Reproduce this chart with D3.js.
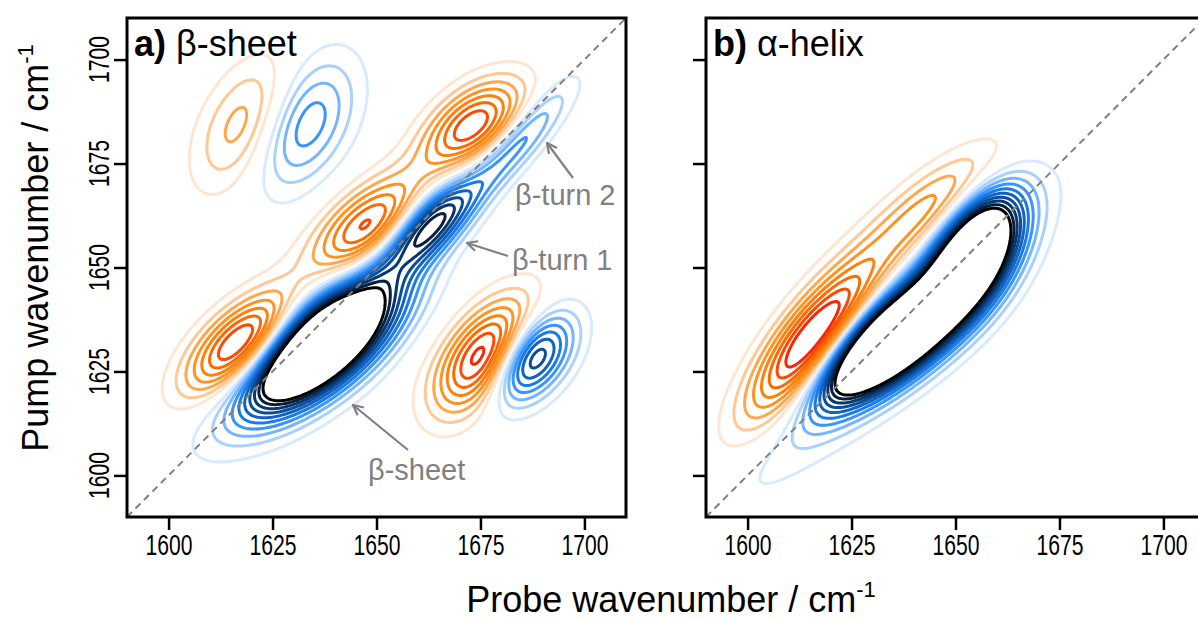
<!DOCTYPE html>
<html>
<head>
<meta charset="utf-8">
<script src="https://cdn.jsdelivr.net/npm/d3@7"></script>
<style>
  body { margin: 0; background: #fff; overflow: hidden; }
  text { font-family: "Liberation Sans", Arial, sans-serif; }
</style>
</head>
<body>
<svg id="chart" width="1198" height="621"></svg>
<script>
// axis range and ticks (cm-1)
const DOMAIN = [1590, 1710];
const TICKS = [1600, 1625, 1650, 1675, 1700];

// contour levels, in units of one contour step
const POS_LEVELS = [1, 2, 3, 4, 5, 6, 7, 8];
const NEG_LEVELS = [1, 2, 3, 4, 5, 6, 7, 8, 9, 10];
const POS_COLORS = ["#ffe6d1", "#ffc894", "#ffa74d", "#ff9222", "#ff800c", "#ff6a00", "#ff4800", "#ff2400"];
const NEG_COLORS = ["#d9eaff", "#a9d1ff", "#73b6ff", "#3894ff", "#1a7ae6", "#1062c4", "#0a4d9a", "#073770", "#041f40", "#000000"];

// peaks: [probe, pump, width along, width across, tilt deg, amplitude]
const sheetPeaks = [
  [1636.5, 1631, 15, 6.5, 39, -20],  // beta-sheet bleach
  [1640, 1640, 35, 7, 45, -1.2],     // weak band along the diagonal
  [1618, 1631.5, 11.5, 5.5, 42, 10], // beta-sheet ESA
  [1662.5, 1660, 10.5, 4.2, 45, -9.6], // beta-turn 1 bleach
  [1648, 1659.5, 11.5, 5.8, 40, 8],  // beta-turn 1 ESA
  [1684, 1680, 12, 3.2, 48, -4.8],   // beta-turn 2 bleach
  [1673, 1684, 10, 5.5, 40, 8],      // beta-turn 2 ESA
  [1618, 1684.5, 12, 6.5, 62, 3.75], // cross peak upper left (+)
  [1633, 1684.5, 12, 7, 62, -4.8],   // cross peak upper left (-)
  [1677, 1629, 11, 6, 50, 10.5],     // cross peak lower right (+)
  [1686.5, 1628.5, 9, 5.5, 50, -10.5] // cross peak lower right (-)
];
const helixPeaks = [
  [1635, 1633, 15, 6, 37, -20],
  [1654.5, 1654.5, 11, 6, 58, -16],
  [1632, 1629, 34, 6.5, 44, -2.5],
  [1616, 1632, 16, 5.5, 52, 11.5],
  [1645, 1665, 14, 5, 40, 4.8]
];

const labels = [
  { text: "β-turn 2", tx: 515, ty: 205, from: [573, 178], to: [547, 143] },
  { text: "β-turn 1", tx: 512, ty: 270, from: [508, 256], to: [467, 243] },
  { text: "β-sheet", tx: 368, ty: 480, from: [408, 450], to: [353, 405] }
];

const SIZE = 499;
const panels = [
  { left: 127, top: 18, peaks: sheetPeaks, tag: "a)", name: " β-sheet", yLabels: true },
  { left: 706, top: 18, peaks: helixPeaks, tag: "b)", name: " α-helix", yLabels: false }
];

// grid a bit wider than the axes so contours do not close on the border
const G0 = 1570, STEP = 0.4, N = 401;

function field(peaks, px, py) {
  let s = 0;
  for (const [cx, cy, su, sv, ang, amp] of peaks) {
    const t = ang * Math.PI / 180, dx = px - cx, dy = py - cy;
    const u = dx * Math.cos(t) + dy * Math.sin(t);
    const v = -dx * Math.sin(t) + dy * Math.cos(t);
    s += amp * Math.exp(-0.5 * (u * u / (su * su) + v * v / (sv * sv)));
  }
  return s;
}

const svg = d3.select("#chart");

svg.append("defs").append("marker")
  .attr("id", "arrow")
  .attr("viewBox", "0 0 12 12")
  .attr("refX", 11).attr("refY", 6)
  .attr("markerWidth", 12).attr("markerHeight", 12)
  .attr("markerUnits", "userSpaceOnUse")
  .attr("orient", "auto")
  .append("path")
  .attr("d", "M1,1L11,6L1,11")
  .attr("fill", "none")
  .attr("stroke", "#808080")
  .attr("stroke-width", 2.2);

panels.forEach((p, k) => {
  const x = d3.scaleLinear().domain(DOMAIN).range([p.left, p.left + SIZE]);
  const y = d3.scaleLinear().domain(DOMAIN).range([p.top + SIZE, p.top]);

  const values = new Float64Array(N * N);
  for (let j = 0; j < N; j++)
    for (let i = 0; i < N; i++)
      values[j * N + i] = field(p.peaks, G0 + i * STEP, G0 + j * STEP);
  const negValues = values.map(v => -v);

  const proj = d3.geoTransform({
    point(gx, gy) { this.stream.point(x(G0 + (gx - 0.5) * STEP), y(G0 + (gy - 0.5) * STEP)); }
  });
  const path = d3.geoPath(proj);

  svg.append("clipPath").attr("id", "clip" + k)
    .append("rect").attr("x", p.left).attr("y", p.top).attr("width", SIZE).attr("height", SIZE);

  const g = svg.append("g").attr("clip-path", `url(#clip${k})`);

  const posC = d3.contours().size([N, N]).thresholds(POS_LEVELS)(values);
  const negC = d3.contours().size([N, N]).thresholds(NEG_LEVELS)(negValues);

  g.selectAll("path.pos").data(posC).enter().append("path")
    .attr("class", "pos")
    .attr("d", path)
    .attr("fill", "none")
    .attr("stroke", (d, i) => POS_COLORS[i])
    .attr("stroke-width", 3);

  g.selectAll("path.neg").data(negC).enter().append("path")
    .attr("class", "neg")
    .attr("d", path)
    .attr("fill", "none")
    .attr("stroke", (d, i) => NEG_COLORS[i])
    .attr("stroke-width", 3);

  // diagonal
  g.append("line")
    .attr("x1", x(DOMAIN[0])).attr("y1", y(DOMAIN[0]))
    .attr("x2", x(DOMAIN[1])).attr("y2", y(DOMAIN[1]))
    .attr("stroke", "#808080").attr("stroke-width", 2)
    .attr("stroke-dasharray", "7,5");

  // axes
  const xAxis = svg.append("g").attr("transform", `translate(0,${p.top + SIZE})`)
    .call(d3.axisBottom(x).tickValues(TICKS).tickSize(13).tickPadding(4).tickFormat(d3.format("d")));
  xAxis.select(".domain").remove();
  xAxis.selectAll(".tick line").attr("stroke", "#000").attr("stroke-width", 2.5);
  xAxis.selectAll(".tick text").attr("font-size", 29).attr("fill", "#000")
    .attr("font-family", '"Liberation Sans", Arial, sans-serif')
    .attr("textLength", 47).attr("lengthAdjust", "spacingAndGlyphs");

  const yAxis = svg.append("g").attr("transform", `translate(${p.left},0)`)
    .call(d3.axisLeft(y).tickValues(TICKS).tickSize(13).tickFormat(""));
  yAxis.select(".domain").remove();
  yAxis.selectAll(".tick line").attr("stroke", "#000").attr("stroke-width", 2.5);

  if (p.yLabels) {
    svg.append("g").selectAll("text").data(TICKS).enter().append("text")
      .attr("transform", d => `translate(${p.left - 18},${y(d)}) rotate(-90)`)
      .attr("text-anchor", "middle")
      .attr("font-size", 29)
      .attr("textLength", 47).attr("lengthAdjust", "spacingAndGlyphs")
      .text(d => d);
  }

  // frame
  svg.append("rect")
    .attr("x", p.left).attr("y", p.top).attr("width", SIZE).attr("height", SIZE)
    .attr("fill", "none").attr("stroke", "#000").attr("stroke-width", 3);

  // panel title
  const t = svg.append("text").attr("x", p.left + 7).attr("y", p.top + 38).attr("font-size", 36);
  t.append("tspan").attr("font-weight", "bold").text(p.tag);
  t.append("tspan").text(p.name);

  if (k === 0) {
    labels.forEach(l => {
      svg.append("line")
        .attr("x1", l.from[0]).attr("y1", l.from[1])
        .attr("x2", l.to[0]).attr("y2", l.to[1])
        .attr("stroke", "#808080").attr("stroke-width", 2.2)
        .attr("marker-end", "url(#arrow)");
      svg.append("text").attr("x", l.tx).attr("y", l.ty)
        .attr("font-size", 29).attr("fill", "#808080").text(l.text);
    });
  }
});

// axis titles
const xt = svg.append("text").attr("x", 671).attr("y", 612).attr("text-anchor", "middle").attr("font-size", 36);
xt.append("tspan").text("Probe wavenumber / cm");
xt.append("tspan").attr("font-size", 22).attr("dy", -15).text("-1");

const yt = svg.append("text").attr("transform", "translate(48,248) rotate(-90)").attr("text-anchor", "middle").attr("font-size", 36);
yt.append("tspan").text("Pump wavenumber / cm");
yt.append("tspan").attr("font-size", 22).attr("dy", -15).text("-1");
</script>
</body>
</html>
